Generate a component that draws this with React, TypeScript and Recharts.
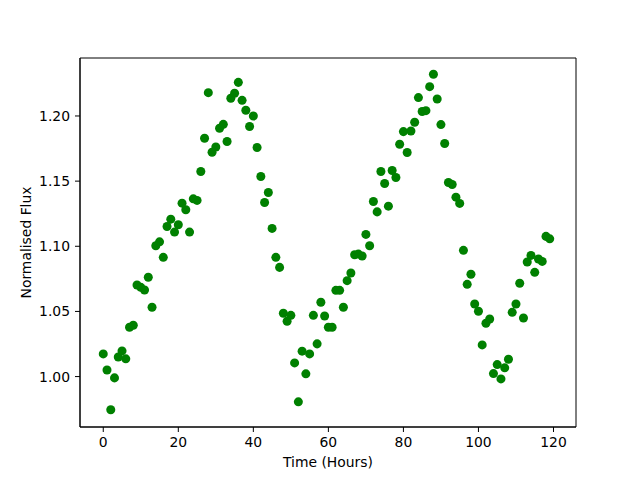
import {
  Label,
  ReferenceArea,
  Scatter,
  ScatterChart,
  XAxis,
  YAxis,
  ZAxis,
} from "recharts";

const hours = [
  0, 1, 2, 3, 4, 5, 6, 7, 8, 9, 10, 11, 12, 13, 14, 15, 16, 17, 18, 19,
  20, 21, 22, 23, 24, 25, 26, 27, 28, 29, 30, 31, 32, 33, 34, 35, 36, 37, 38, 39,
  40, 41, 42, 43, 44, 45, 46, 47, 48, 49, 50, 51, 52, 53, 54, 55, 56, 57, 58, 59,
  60, 61, 62, 63, 64, 65, 66, 67, 68, 69, 70, 71, 72, 73, 74, 75, 76, 77, 78, 79,
  80, 81, 82, 83, 84, 85, 86, 87, 88, 89, 90, 91, 92, 93, 94, 95, 96, 97, 98, 99,
  100, 101, 102, 103, 104, 105, 106, 107, 108, 109, 110, 111, 112, 113, 114, 115,
  116, 117, 118, 119,
];

const flux = [
  1.0174, 1.005, 0.9745, 0.999, 1.015, 1.0197, 1.0136, 1.0379, 1.0394, 1.0703,
  1.0685, 1.0664, 1.0762, 1.0532, 1.1004, 1.1034, 1.0915, 1.1152, 1.1208, 1.1109,
  1.1165, 1.1331, 1.128, 1.1109, 1.1364, 1.1352, 1.1574, 1.1829, 1.2179, 1.1722,
  1.1762, 1.1906, 1.1936, 1.1804, 1.2136, 1.2174, 1.2258, 1.212, 1.2044, 1.1919,
  1.2, 1.1758, 1.1536, 1.1336, 1.1413, 1.1137, 1.0915, 1.0838, 1.0486, 1.0425,
  1.047, 1.0105, 0.9806, 1.0195, 1.0021, 1.0174, 1.047, 1.0251, 1.057, 1.0465,
  1.0379, 1.0379, 1.0662, 1.0662, 1.0532, 1.0736, 1.0795, 1.0935, 1.094, 1.0925,
  1.1091, 1.1004, 1.1344, 1.1264, 1.1574, 1.1482, 1.1308, 1.1582, 1.1528, 1.1783,
  1.188, 1.172, 1.1885, 1.1952, 1.2141, 1.2034, 1.2041, 1.2225, 1.232, 1.213,
  1.1934, 1.1789, 1.149, 1.1474, 1.1377, 1.1329, 1.0969, 1.0708, 1.0785, 1.0557,
  1.0501, 1.0243, 1.0409, 1.0442, 1.0023, 1.0092, 0.9982, 1.0067, 1.0133, 1.0493,
  1.0557, 1.0716, 1.045, 1.0879, 1.093, 1.08, 1.0902, 1.0884, 1.1076, 1.1057,
];

const xTicks = [0, 20, 40, 60, 80, 100, 120];
const yTicks = [1.0, 1.05, 1.1, 1.15, 1.2];

const X_DOMAIN: [number, number] = [-6.2, 126];
const Y_DOMAIN: [number, number] = [0.9613, 1.2445];

const font = "'DejaVu Sans', sans-serif";
const tickStyle = { fill: "#000", fontSize: 13.9, fontFamily: font };

export default function App() {
  const data = hours.map((h, i) => ({ hours: h, flux: flux[i] }));

  return (
    <div style={{ position: "absolute", left: 0, top: 0, background: "#fff" }}>
      <ScatterChart
        width={640}
        height={480}
        margin={{ top: 58, right: 64, bottom: 0, left: 0 }}
      >
        <XAxis
          type="number"
          dataKey="hours"
          domain={X_DOMAIN}
          ticks={xTicks}
          allowDataOverflow
          height={53}
          tickSize={5}
          tickMargin={5}
          stroke="#000"
          tick={tickStyle}
        >
          <Label
            value="Time (Hours)"
            position="insideBottom"
            offset={13}
            style={{ fill: "#000", fontSize: 13.9, fontFamily: font }}
          />
        </XAxis>
        <YAxis
          type="number"
          dataKey="flux"
          domain={Y_DOMAIN}
          ticks={yTicks}
          allowDataOverflow
          width={80}
          tickSize={5}
          tickMargin={5}
          stroke="#000"
          tick={tickStyle}
          tickFormatter={(v: number) => v.toFixed(2)}
        >
          <Label
            value="Normalised Flux"
            angle={-90}
            position="insideLeft"
            offset={26}
            style={{
              fill: "#000",
              fontSize: 13.9,
              fontFamily: font,
              textAnchor: "middle",
            }}
          />
        </YAxis>
        <ZAxis range={[66, 66]} />
        <ReferenceArea
          x1={X_DOMAIN[0]}
          x2={X_DOMAIN[1]}
          y1={Y_DOMAIN[0]}
          y2={Y_DOMAIN[1]}
          fill="none"
          stroke="#000"
          strokeWidth={1}
          fillOpacity={0}
        />
        <Scatter data={data} fill="#008000" isAnimationActive={false} />
      </ScatterChart>
    </div>
  );
}
